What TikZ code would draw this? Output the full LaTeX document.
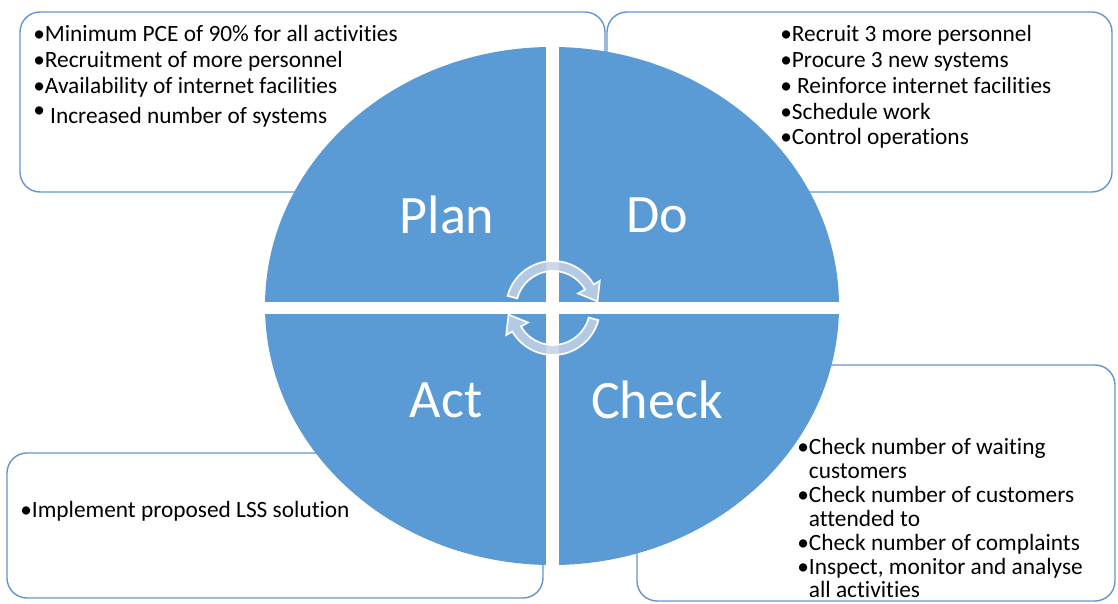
\documentclass[tikz,border=0pt]{standalone}
\usepackage{fontspec}
\setmainfont{Carlito}[Ligatures=NoCommon]
\definecolor{wheelblue}{RGB}{91,155,213}
\definecolor{boxline}{RGB}{100,150,205}
\definecolor{cyclefill}{RGB}{196,210,230}
\tikzset{
  box/.style={
    draw=boxline,
    line width=1pt,
    rounded corners=5mm,
    fill=white
  },
  bullets/.style={
    anchor=north west,
    inner sep=0pt,
    align=left,
    font=\fontsize{16.6}{18.4}\selectfont
  },
  phase/.style={text=white, font=\fontsize{38.5}{44}\selectfont},
  cyclearrow/.style={fill=cyclefill, fill opacity=0.85, draw=white, line width=1.2pt}
}

\begin{document}
\begin{tikzpicture}[x=0.025cm,y=0.025cm]
\useasboundingbox (0,0) rectangle (1118,604);

% boxes behind the wheel
\draw[box] (20,592) rectangle (605,412);
\draw[box] (607,592) rectangle (1112,412);
\draw[box] (7,151) rectangle (543,6);
\draw[box] (637,239) rectangle (1115,3);

% the wheel and its four quarters
\fill[wheelblue] (552,298) ellipse [x radius=287, y radius=259];
\draw[white, line width=3.25mm] (552,28) -- (552,566);
\draw[white, line width=3mm] (255,296) -- (849,296);

% turning arrows in the hub
\foreach \turn in {0,180}{
  \begin{scope}[shift={(553,296)}, rotate=\turn]
    \draw[cyclearrow] (165:47) arc[start angle=165, end angle=30, radius=47]
      -- (30:54) -- (44.5,6.6) -- (30:29) -- (30:37)
      arc[start angle=30, end angle=165, radius=37] -- cycle;
  \end{scope}
}

\node[phase] (plan) at (447,389) {Plan};
\node[phase] (do) at (657,389) {Do};
\node[phase] (act) at (446,204) {Act};
\node[phase] (check) at (657,204) {Check};

\node[bullets] (plantext) at (33,579) {\textbullet Minimum PCE of 90\% for all activities\\
  \textbullet Recruitment of more personnel\\
  \textbullet Availability of internet facilities\\[3pt]
  \raisebox{4pt}{\textbullet} Increased number of systems};
\node[bullets] (dotext) at (780,579) {\textbullet Recruit 3 more personnel\\
  \textbullet Procure 3 new systems\\
  \textbullet\ Reinforce internet facilities\\
  \textbullet Schedule work\\
  \textbullet Control operations};
\node[bullets, font=\fontsize{16.6}{17}\selectfont] (checktext) at (797,166) {\textbullet Check number of waiting\\
  \hphantom{\textbullet}customers\\
  \textbullet Check number of customers\\
  \hphantom{\textbullet}attended to\\
  \textbullet Check number of complaints\\
  \textbullet Inspect, monitor and analyse\\
  \hphantom{\textbullet}all activities};
\node[bullets] (acttext) at (20,103) {\textbullet Implement proposed LSS solution};
\end{tikzpicture}
\end{document}
